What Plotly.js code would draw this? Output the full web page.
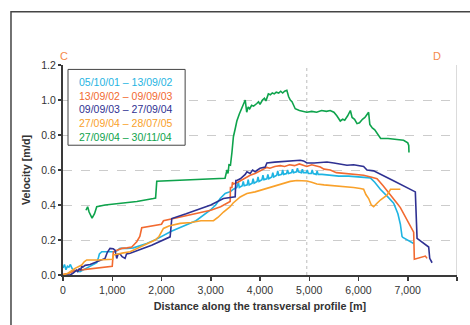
<!DOCTYPE html>
<html><head><meta charset="utf-8">
<script src="https://cdn.plot.ly/plotly-3.0.1.min.js"></script>
<style>html,body{margin:0;padding:0;background:#fff}#chart{width:470px;height:325px}</style>
</head><body><div id="chart"></div>
<script>
const seriesNames = ["05/10/01 \u2013 13/09/02","13/09/02 \u2013 09/09/03","09/09/03 \u2013 27/09/04","27/09/04 \u2013 28/07/05","27/09/04 \u2013 30/11/04"];
const seriesColors = ["#1fb4e2","#f26a30","#2f3192","#f9a12a","#0ea34c"];

const cyanX = [0,30,60,90,120,150,180,210,250,345,450,549,620,685,720,739,787,900,1057,1100,1158,1300,1430,1700,1900,2200,2378,2700,2988,3100,3191,3293,3330,3394,3460,3530,3560,3580,3640,3660,3680,3740,3760,3780,3840,3860,3880,3940,3960,3980,4040,4060,4080,4140,4160,4180,4240,4260,4280,4340,4360,4380,4440,4460,4480,4540,4560,4580,4640,4660,4680,4740,4760,4780,4840,4860,4880,4940,4960,4980,5040,5060,5080,5140,5160,5180,5260,5400,5600,5800,6000,6240,6330,6443,6600,6714,6800,6850,6884,6900,7120];
const cyanY = [0.04,0.06,0.03,0.05,0.045,0.06,0.04,0.028,0.025,0.019,0.035,0.05,0.06,0.07,0.1,0.12,0.133,0.133,0.133,0.14,0.152,0.152,0.155,0.18,0.205,0.25,0.27,0.31,0.37,0.4,0.437,0.466,0.47,0.475,0.49,0.5,0.53,0.5,0.51,0.535,0.51,0.515,0.545,0.515,0.525,0.55,0.525,0.535,0.56,0.535,0.545,0.57,0.545,0.55,0.575,0.55,0.56,0.585,0.56,0.57,0.595,0.57,0.575,0.6,0.575,0.58,0.6,0.58,0.585,0.605,0.585,0.59,0.61,0.59,0.585,0.605,0.585,0.585,0.6,0.58,0.58,0.6,0.58,0.575,0.595,0.575,0.575,0.57,0.565,0.565,0.56,0.555,0.53,0.49,0.445,0.41,0.35,0.29,0.22,0.215,0.18];

const redX = [0,100,244,400,600,800,990,1000,1022,1100,1192,1300,1396,1497,1560,1599,1700,1850,2000,2040,2243,2600,3000,3200,3394,3400,3430,3440,3460,3550,3650,3734,3800,3900,4000,4140,4200,4300,4410,4500,4600,4700,4800,4884,4950,5050,5150,5224,5300,5427,5550,5697,5900,6104,6250,6376,6500,6650,6782,6850,7000,7120,7134,7256,7300,7358,7392];
const redY = [0.004,0.008,0.025,0.03,0.037,0.043,0.05,0.05,0.133,0.14,0.152,0.155,0.16,0.19,0.22,0.27,0.275,0.28,0.29,0.31,0.323,0.345,0.37,0.39,0.42,0.5,0.5,0.53,0.52,0.53,0.545,0.56,0.57,0.58,0.595,0.615,0.61,0.62,0.625,0.62,0.63,0.625,0.635,0.627,0.62,0.63,0.625,0.617,0.605,0.6,0.585,0.58,0.575,0.57,0.56,0.55,0.51,0.46,0.41,0.385,0.31,0.245,0.09,0.1,0.1,0.108,0.095];

const navyX = [0,150,200,278,300,330,360,380,400,450,550,685,854,900,955,1020,1057,1091,1120,1160,1200,1260,1290,1362,1800,2175,2209,2500,2800,3000,3258,3496,3510,3530,3600,3650,3700,3734,3800,3850,3900,3950,4000,4106,4140,4300,4500,4700,4817,4884,4953,5100,5360,5500,5766,5900,6000,6104,6172,6307,6700,7154,7189,7425,7446,7494];
const navyY = [0,0,0.01,0.028,0.02,0.035,0.03,0.05,0.045,0.055,0.06,0.076,0.095,0.13,0.152,0.15,0.142,0.095,0.12,0.12,0.105,0.095,0.12,0.124,0.17,0.218,0.323,0.35,0.38,0.4,0.437,0.447,0.54,0.54,0.55,0.56,0.575,0.59,0.58,0.6,0.59,0.6,0.61,0.617,0.64,0.645,0.648,0.65,0.656,0.652,0.64,0.64,0.646,0.64,0.627,0.63,0.625,0.62,0.6,0.595,0.54,0.475,0.209,0.16,0.095,0.07];

const orangeX = [0,100,244,300,380,430,482,700,900,1006,1022,1100,1200,1362,1500,1700,1870,1950,2039,2150,2243,2378,2600,2800,3055,3150,3258,3394,3450,3530,3598,3665,3734,3900,4072,4300,4500,4614,4750,4884,4953,5050,5156,5300,5500,5766,5900,6037,6104,6150,6206,6260,6307,6376,6450,6579,6650,6700,6850];
const orangeY = [0,0.01,0.038,0.045,0.057,0.075,0.086,0.086,0.086,0.09,0.114,0.12,0.125,0.133,0.15,0.175,0.2,0.22,0.266,0.28,0.285,0.295,0.3,0.31,0.31,0.33,0.36,0.39,0.41,0.43,0.446,0.456,0.466,0.475,0.49,0.51,0.525,0.535,0.54,0.54,0.537,0.53,0.52,0.515,0.51,0.507,0.5,0.494,0.49,0.46,0.437,0.4,0.39,0.41,0.43,0.456,0.49,0.49,0.49];

const greenX = [467,500,530,590,640,685,854,1200,1500,1836,1880,1904,2200,2600,3000,3290,3330,3350,3370,3400,3430,3460,3500,3530,3580,3630,3670,3700,3715,3730,3760,3790,3830,3870,3935,3970,4000,4050,4090,4120,4170,4210,4250,4290,4330,4380,4420,4460,4500,4545,4580,4615,4650,4715,4800,4880,4950,5050,5150,5250,5350,5425,5500,5560,5600,5630,5680,5720,5780,5835,5870,5920,5970,6020,6080,6130,6180,6205,6230,6280,6330,6380,6410,6450,6600,6800,6915,7000,7020,7025];
const greenY = [0.37,0.39,0.36,0.325,0.35,0.39,0.4,0.41,0.42,0.437,0.44,0.536,0.54,0.545,0.548,0.553,0.6,0.58,0.63,0.627,0.7,0.79,0.84,0.88,0.92,0.96,0.98,1.0,0.93,0.93,0.96,0.95,0.97,0.965,0.98,0.99,0.975,1.0,1.01,0.995,1.035,1.03,1.04,1.035,1.045,1.04,1.05,1.04,1.05,1.055,1.02,1.0,0.99,0.95,0.94,0.935,0.93,0.935,0.93,0.94,0.935,0.94,0.93,0.91,0.89,0.88,0.89,0.885,0.91,0.94,0.9,0.89,0.865,0.87,0.89,0.9,0.92,0.93,0.86,0.84,0.83,0.81,0.8,0.78,0.78,0.775,0.77,0.755,0.74,0.70];

const xTicks = [0,1000,2000,3000,4000,5000,6000,7000,8000];
const yTicks = [0,0.2,0.4,0.6,0.8,1.0,1.2];

const xs = [cyanX, redX, navyX, orangeX, greenX];
const ys = [cyanY, redY, navyY, orangeY, greenY];
const traces = xs.map((x, i) => ({
  x: x, y: ys[i], type: 'scatter', mode: 'lines', name: seriesNames[i],
  line: {color: seriesColors[i], width: 1.6}, showlegend: false
}));

const FAM = 'Liberation Sans, Arial, sans-serif';
const legendText = seriesNames.map((n, i) => '<span style="color:' + seriesColors[i] + '">' + n + '</span>').join('<br>');

const layout = {
  width: 470, height: 325,
  margin: {l: 63, r: 13, t: 64.5, b: 50, pad: 0},
  paper_bgcolor: '#fff', plot_bgcolor: '#fff',
  font: {family: FAM, size: 10.5, color: '#333'},
  xaxis: {
    range: [0, 8000], tickvals: xTicks, tickformat: ',d',
    showgrid: false, zeroline: false,
    showline: true, linecolor: '#3a3a3a', linewidth: 2,
    ticks: 'outside', ticklen: 4, tickcolor: '#3a3a3a', tickwidth: 1.5,
    tickfont: {family: FAM, size: 10.5, color: '#333'},
    title: {text: 'Distance along the transversal profile [m]', font: {family: FAM, size: 10.8, color: '#333', weight: 'bold'}, standoff: 8}
  },
  yaxis: {
    range: [0, 1.2], tickvals: yTicks, tickformat: '.1f',
    showgrid: true, gridcolor: '#cccccc', gridwidth: 1, griddash: 'dash',
    zeroline: false,
    showline: true, linecolor: '#3a3a3a', linewidth: 2,
    ticks: 'outside', ticklen: 3, tickcolor: '#3a3a3a', tickwidth: 1.5,
    tickfont: {family: FAM, size: 10.5, color: '#333'},
    title: {text: 'Velocity [m/d]', font: {family: FAM, size: 10.8, color: '#333', weight: 'bold'}, standoff: 9}
  },
  shapes: [
    {type: 'rect', xref: 'paper', yref: 'paper', x0: -0.132, x1: 1.2, y0: -0.4, y1: 1.254, line: {color: '#444', width: 1.5}, fillcolor: 'rgba(0,0,0,0)', layer: 'below'},
    {type: 'line', xref: 'x', yref: 'y', x0: 8000, x1: 8000, y0: 0, y1: 1.2, line: {color: '#cfcfcf', width: 1.5}},
    {type: 'line', xref: 'x', yref: 'y', x0: 4950, x1: 4950, y0: 0, y1: 1.2, line: {color: '#bdbdbd', width: 1, dash: 'dot'}, layer: 'below'},
    {type: 'rect', xref: 'paper', yref: 'paper', x0: 0.0127, x1: 0.31, y0: 0.618, y1: 0.979, line: {color: '#444', width: 1}, fillcolor: '#fff'}
  ],
  annotations: [
    {xref: 'paper', yref: 'paper', x: 0.036, y: 0.955, xanchor: 'left', yanchor: 'top', align: 'left', showarrow: false, text: legendText, font: {family: FAM, size: 10.5}},
    {xref: 'paper', yref: 'paper', x: 0.003, y: 1.045, xanchor: 'center', yanchor: 'middle', showarrow: false, text: 'C', font: {family: FAM, size: 11, color: '#f58a4b'}},
    {xref: 'paper', yref: 'paper', x: 0.949, y: 1.045, xanchor: 'center', yanchor: 'middle', showarrow: false, text: 'D', font: {family: FAM, size: 11, color: '#f58a4b'}}
  ]
};

Plotly.newPlot('chart', traces, layout, {displayModeBar: false, staticPlot: true});
</script></body></html>
